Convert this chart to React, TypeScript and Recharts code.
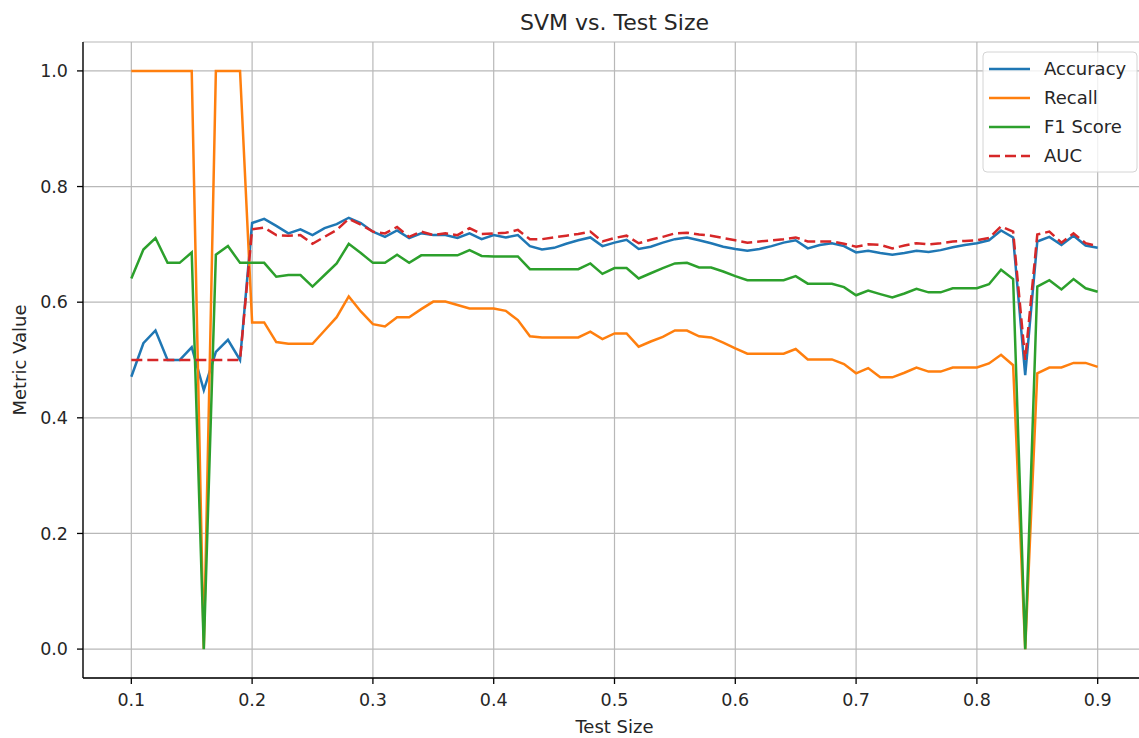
import React from 'react';
import {
  LineChart,
  Line,
  XAxis,
  YAxis,
  CartesianGrid,
  Label,
} from 'recharts';

// test sizes on the x axis
const testSizes = [
  0.1, 0.11, 0.12, 0.13, 0.14, 0.15, 0.16, 0.17, 0.18, 0.19,
  0.2, 0.21, 0.22, 0.23, 0.24, 0.25, 0.26, 0.27, 0.28, 0.29,
  0.3, 0.31, 0.32, 0.33, 0.34, 0.35, 0.36, 0.37, 0.38, 0.39,
  0.4, 0.41, 0.42, 0.43, 0.44, 0.45, 0.46, 0.47, 0.48, 0.49,
  0.5, 0.51, 0.52, 0.53, 0.54, 0.55, 0.56, 0.57, 0.58, 0.59,
  0.6, 0.61, 0.62, 0.63, 0.64, 0.65, 0.66, 0.67, 0.68, 0.69,
  0.7, 0.71, 0.72, 0.73, 0.74, 0.75, 0.76, 0.77, 0.78, 0.79,
  0.8, 0.81, 0.82, 0.83, 0.84, 0.85, 0.86, 0.87, 0.88, 0.89,
  0.9,
];

const accuracy = [
  0.471, 0.529, 0.551, 0.5, 0.5, 0.522, 0.448, 0.514, 0.535, 0.5,
  0.737, 0.744, 0.732, 0.719, 0.726, 0.716, 0.728, 0.735, 0.746, 0.737,
  0.722, 0.713, 0.724, 0.711, 0.719, 0.716, 0.716, 0.711, 0.719, 0.709,
  0.716, 0.712, 0.716, 0.697, 0.691, 0.694, 0.701, 0.707, 0.712, 0.697,
  0.703, 0.708, 0.692, 0.696, 0.703, 0.709, 0.712, 0.707, 0.702, 0.696,
  0.692, 0.689, 0.692, 0.697, 0.703, 0.707, 0.693, 0.699, 0.702, 0.697,
  0.686, 0.689, 0.685, 0.682, 0.685, 0.689, 0.687, 0.69, 0.695, 0.699,
  0.702, 0.707, 0.724, 0.712, 0.474, 0.705, 0.713, 0.699, 0.715, 0.698,
  0.694,
];

const recall = [
  1, 1, 1, 1, 1, 1, 0, 1, 1, 1,
  0.565, 0.565, 0.531, 0.528, 0.528, 0.528, 0.551, 0.574, 0.61, 0.584,
  0.562, 0.558, 0.574, 0.574, 0.588, 0.601, 0.601, 0.595, 0.589, 0.589,
  0.589, 0.585, 0.569, 0.541, 0.539, 0.539, 0.539, 0.539, 0.549, 0.536,
  0.546, 0.546, 0.523, 0.532, 0.54, 0.551, 0.551, 0.541, 0.539, 0.53,
  0.52, 0.511, 0.511, 0.511, 0.511, 0.519, 0.501, 0.501, 0.501, 0.493,
  0.477, 0.486, 0.47, 0.47, 0.478, 0.487, 0.48, 0.48, 0.487, 0.487,
  0.487, 0.494, 0.509, 0.491, 0, 0.477, 0.487, 0.487, 0.495, 0.495,
  0.488,
];

const f1Score = [
  0.641, 0.691, 0.711, 0.668, 0.668, 0.686, 0, 0.682, 0.697, 0.668,
  0.668, 0.668, 0.644, 0.647, 0.647, 0.627, 0.647, 0.667, 0.701, 0.685,
  0.668, 0.668, 0.682, 0.668, 0.681, 0.681, 0.681, 0.681, 0.69, 0.68,
  0.679, 0.679, 0.679, 0.657, 0.657, 0.657, 0.657, 0.657, 0.667, 0.649,
  0.659, 0.659, 0.641, 0.65, 0.659, 0.667, 0.668, 0.66, 0.66, 0.653,
  0.645, 0.638, 0.638, 0.638, 0.638, 0.645, 0.632, 0.632, 0.632, 0.626,
  0.612, 0.62, 0.614, 0.608, 0.615, 0.623, 0.617, 0.617, 0.624, 0.624,
  0.624, 0.631, 0.656, 0.64, 0, 0.627, 0.638, 0.622, 0.64, 0.624,
  0.618,
];

const auc = [
  0.5, 0.5, 0.5, 0.5, 0.5, 0.5, 0.5, 0.5, 0.5, 0.5,
  0.726, 0.729, 0.716, 0.715, 0.716, 0.701, 0.713, 0.725, 0.744, 0.734,
  0.722, 0.719, 0.73, 0.713, 0.722, 0.716, 0.719, 0.716, 0.728, 0.718,
  0.719, 0.72, 0.725, 0.709, 0.709, 0.712, 0.715, 0.718, 0.722, 0.705,
  0.711, 0.715, 0.702, 0.708, 0.713, 0.719, 0.72, 0.717, 0.715, 0.711,
  0.707, 0.703, 0.705, 0.707, 0.709, 0.712, 0.705, 0.705, 0.705, 0.701,
  0.696, 0.7, 0.699, 0.693, 0.698, 0.702, 0.7, 0.702, 0.705, 0.706,
  0.707, 0.711, 0.731, 0.722, 0.5, 0.717, 0.722, 0.703, 0.719, 0.702,
  0.697,
];

const xTicks = [0.1, 0.2, 0.3, 0.4, 0.5, 0.6, 0.7, 0.8, 0.9];
const yTicks = [0, 0.2, 0.4, 0.6, 0.8, 1.0];

const series = [
  { key: 'accuracy', name: 'Accuracy', color: '#1f77b4', dash: undefined },
  { key: 'recall', name: 'Recall', color: '#ff7f0e', dash: undefined },
  { key: 'f1', name: 'F1 Score', color: '#2ca02c', dash: undefined },
  { key: 'auc', name: 'AUC', color: '#d62728', dash: '11 5' },
];

const data = testSizes.map((x, i) => ({
  x,
  accuracy: accuracy[i],
  recall: recall[i],
  f1: f1Score[i],
  auc: auc[i],
}));

const FONT = '"DejaVu Sans", sans-serif';
const TEXT = '#262626';

// matplotlib-style legend box, upper right
function LegendBox() {
  return (
    <svg
      width={156}
      height={122}
      style={{ position: 'absolute', left: 982, top: 51, display: 'block' }}
    >
      <rect
        x={1}
        y={1}
        width={154}
        height={120}
        rx={4}
        fill="rgba(255,255,255,0.8)"
        stroke="#d4d4d4"
      />
      {series.map((s, i) => {
        const cy = 18 + i * 29;
        return (
          <g key={s.key}>
            <line
              x1={7}
              x2={48}
              y1={cy}
              y2={cy}
              stroke={s.color}
              strokeWidth={2.5}
              strokeDasharray={s.dash}
            />
            <text
              x={62}
              y={cy}
              dy="0.36em"
              fontSize={18}
              fontFamily={FONT}
              fill={TEXT}
            >
              {s.name}
            </text>
          </g>
        );
      })}
    </svg>
  );
}

export default function App() {
  return (
    <div
      style={{
        position: 'absolute',
        left: 0,
        top: 0,
        width: 1139,
        height: 738,
        overflow: 'hidden',
        background: '#fff',
      }}
    >
      <div
        style={{
          position: 'absolute',
          left: 83,
          width: 1063,
          top: 9,
          textAlign: 'center',
          fontFamily: FONT,
          fontSize: 22,
          color: TEXT,
          lineHeight: '28px',
        }}
      >
        SVM vs. Test Size
      </div>
      <LineChart
        width={1160}
        height={738}
        data={data}
        margin={{ top: 42, right: 14, bottom: 0, left: 0 }}
      >
        <CartesianGrid stroke="#b8b8b8" strokeWidth={1.2} />
        <XAxis
          dataKey="x"
          type="number"
          domain={[0.06, 0.94]}
          ticks={xTicks}
          tickFormatter={(v: number) => v.toFixed(1)}
          height={60}
          tickSize={6}
          tickMargin={10}
          stroke="#000"
          strokeWidth={1.3}
          tick={{ fill: TEXT, fontSize: 17.5, fontFamily: FONT }}
        >
          <Label
            value="Test Size"
            position="insideBottom"
            offset={5}
            fill={TEXT}
            fontSize={18}
            fontFamily={FONT}
          />
        </XAxis>
        <XAxis
          xAxisId="top"
          dataKey="x"
          type="number"
          orientation="top"
          domain={[0.06, 0.94]}
          height={0}
          tick={false}
          tickLine={false}
          stroke="#000"
          strokeWidth={1.3}
        />
        <YAxis
          type="number"
          domain={[-0.05, 1.05]}
          ticks={yTicks}
          tickFormatter={(v: number) => v.toFixed(1)}
          width={83}
          tickSize={6}
          tickMargin={9}
          stroke="#000"
          strokeWidth={1.3}
          tick={{ fill: TEXT, fontSize: 17.5, fontFamily: FONT }}
        >
          <Label
            value="Metric Value"
            angle={-90}
            position="insideLeft"
            offset={20}
            style={{ textAnchor: 'middle' }}
            fill={TEXT}
            fontSize={18}
            fontFamily={FONT}
          />
        </YAxis>
        {series.map((s) => (
          <Line
            key={s.key}
            type="linear"
            dataKey={s.key}
            name={s.name}
            stroke={s.color}
            strokeWidth={2.5}
            strokeDasharray={s.dash}
            dot={false}
            activeDot={false}
            isAnimationActive={false}
          />
        ))}
      </LineChart>
      <LegendBox />
    </div>
  );
}
